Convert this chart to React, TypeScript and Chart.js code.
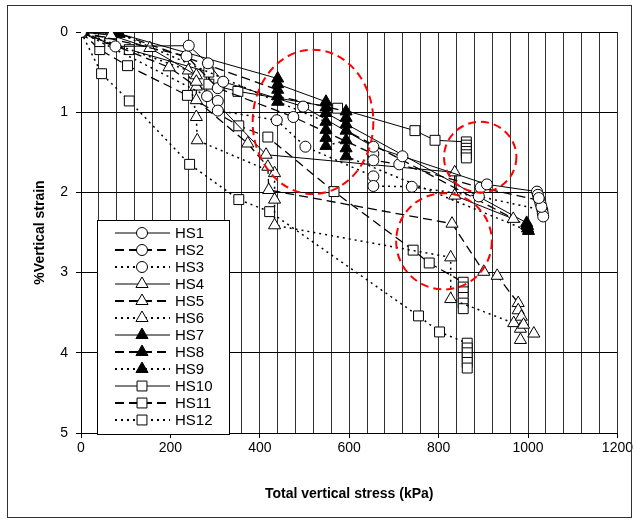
import React, { useEffect, useRef } from 'react';
import { Chart, registerables } from 'chart.js';

Chart.register(...registerables);

// ---- data (stress kPa, vertical strain %) ----
const HS1_STRESS = [0, 77, 241, 284, 318, 497, 654, 719, 908, 1020, 1022, 1024];
const HS1_STRAIN = [0, 0.18, 0.17, 0.39, 0.62, 0.93, 1.43, 1.55, 1.9, 1.99, 2.03, 2.07];
const HS2_STRESS = [0, 236, 306, 475, 654, 654, 712, 894, 1026, 1028, 1030];
const HS2_STRAIN = [0, 0.3, 0.7, 1.06, 1.52, 1.6, 1.65, 1.94, 2.1, 2.14, 2.18];
const HS3_STRESS = [0, 282, 306, 306, 438, 502, 654, 654, 740, 890, 1032, 1033, 1034];
const HS3_STRAIN = [0, 0.8, 0.86, 0.98, 1.1, 1.43, 1.8, 1.92, 1.93, 2.05, 2.22, 2.26, 2.3];

const HS4_STRESS = [0, 67, 154, 258, 258, 414, 836, 836, 967];
const HS4_STRAIN = [0, 0.04, 0.2, 0.54, 0.62, 1.53, 1.75, 2.04, 2.33];
const HS5_STRESS = [0, 197, 258, 258, 373, 418, 420, 830, 901, 931, 978, 978, 985, 990, 1013];
const HS5_STRAIN = [0, 0.44, 0.68, 0.85, 1.39, 1.68, 1.97, 2.39, 2.99, 3.04, 3.38, 3.47, 3.55, 3.65, 3.76];
const HS6_STRESS = [0, 240, 258, 260, 433, 433, 433, 827, 827, 968, 983, 983];
const HS6_STRAIN = [0, 0.48, 1.06, 1.35, 1.76, 2.09, 2.41, 2.81, 3.33, 3.63, 3.7, 3.84];

const HS7_STRESS = [0, 85, 440, 440, 548, 548, 548, 997, 997];
const HS7_STRAIN = [0, 0.02, 0.58, 0.65, 0.87, 0.94, 1.01, 2.38, 2.41];
const HS8_STRESS = [0, 85, 440, 440, 593, 593, 593, 593, 999, 999];
const HS8_STRAIN = [0, 0.02, 0.72, 0.8, 0.99, 1.07, 1.15, 1.23, 2.42, 2.45];
const HS9_STRESS = [0, 85, 440, 548, 548, 548, 548, 593, 593, 593, 1001];
const HS9_STRAIN = [0, 0.02, 0.87, 1.12, 1.22, 1.32, 1.42, 1.35, 1.45, 1.55, 2.48];

const HS10_STRESS = [0, 42, 108, 286, 286, 351, 574, 747, 792, 862, 862, 862, 862, 862, 862];
const HS10_STRAIN = [0, 0.12, 0.22, 0.5, 0.65, 0.74, 0.95, 1.23, 1.35, 1.37, 1.41, 1.45, 1.49, 1.53, 1.57];
const HS11_STRESS = [0, 42, 104, 238, 353, 418, 566, 743, 779, 855, 855, 855, 855, 855, 855];
const HS11_STRAIN = [0, 0.22, 0.42, 0.79, 1.17, 1.31, 1.99, 2.72, 2.88, 3.12, 3.18, 3.24, 3.31, 3.38, 3.45];
const HS12_STRESS = [0, 46, 108, 243, 353, 422, 755, 802, 864, 864, 864, 864, 864, 864];
const HS12_STRAIN = [0, 0.52, 0.86, 1.65, 2.09, 2.24, 3.54, 3.74, 3.88, 3.94, 4.0, 4.06, 4.12, 4.19];

const SERIES_NAMES = ['HS1', 'HS2', 'HS3', 'HS4', 'HS5', 'HS6', 'HS7', 'HS8', 'HS9', 'HS10', 'HS11', 'HS12'];
const SERIES_STRESS = [HS1_STRESS, HS2_STRESS, HS3_STRESS, HS4_STRESS, HS5_STRESS, HS6_STRESS, HS7_STRESS, HS8_STRESS, HS9_STRESS, HS10_STRESS, HS11_STRESS, HS12_STRESS];
const SERIES_STRAIN = [HS1_STRAIN, HS2_STRAIN, HS3_STRAIN, HS4_STRAIN, HS5_STRAIN, HS6_STRAIN, HS7_STRAIN, HS8_STRAIN, HS9_STRAIN, HS10_STRAIN, HS11_STRAIN, HS12_STRAIN];

const X_TICK_LABELS = [0, 200, 400, 600, 800, 1000, 1200];
const Y_TICK_LABELS = [0, 1, 2, 3, 4, 5];

// annotation ellipses (data units)
const ELLIPSE_CX = [519, 893, 812];
const ELLIPSE_CY = [1.12, 1.56, 2.61];
const ELLIPSE_RX = [135, 81, 107];
const ELLIPSE_RY = [0.9, 0.44, 0.6];

// ---- styles ----
type Marker = 'circle' | 'triangle' | 'filledTriangle' | 'square';
const MARKERS: Marker[] = ['circle', 'circle', 'circle', 'triangle', 'triangle', 'triangle', 'filledTriangle', 'filledTriangle', 'filledTriangle', 'square', 'square', 'square'];
const DASH_KIND = ['solid', 'dashed', 'dotted'];

function dashFor(kind: string): number[] {
  if (kind === 'dashed') return [9, 5];
  if (kind === 'dotted') return [2, 4];
  return [];
}
function widthFor(kind: string): number {
  if (kind === 'dashed') return 1.3;
  if (kind === 'dotted') return 1.5;
  return 1;
}
function pointStyleFor(m: Marker): string {
  if (m === 'circle') return 'circle';
  if (m === 'square') return 'rect';
  return 'triangle';
}
function radiusFor(m: Marker): number {
  if (m === 'circle') return 5.5;
  if (m === 'square') return 7;
  return 7;
}

function drawMarker(ctx: CanvasRenderingContext2D, m: Marker, x: number, y: number) {
  ctx.save();
  ctx.setLineDash([]);
  ctx.lineWidth = 1;
  ctx.strokeStyle = '#000';
  ctx.fillStyle = m === 'filledTriangle' ? '#000' : '#fff';
  ctx.beginPath();
  const r = radiusFor(m);
  if (m === 'circle') {
    ctx.arc(x, y, r, 0, Math.PI * 2);
  } else if (m === 'square') {
    const s = Math.SQRT1_2 * r;
    ctx.rect(x - s, y - s, 2 * s, 2 * s);
  } else {
    let a = 0;
    ctx.moveTo(x + Math.sin(a) * r, y - Math.cos(a) * r);
    a += (2 * Math.PI) / 3;
    ctx.lineTo(x + Math.sin(a) * r, y - Math.cos(a) * r);
    a += (2 * Math.PI) / 3;
    ctx.lineTo(x + Math.sin(a) * r, y - Math.cos(a) * r);
    ctx.closePath();
  }
  ctx.fill();
  ctx.stroke();
  ctx.restore();
}

const frame = {
  id: 'frame',
  beforeDraw(chart: any) {
    const ctx = chart.ctx;
    ctx.save();
    ctx.fillStyle = '#fff';
    ctx.fillRect(0, 0, chart.width, chart.height);
    ctx.restore();
  },
  afterDraw(chart: any) {
    const ctx = chart.ctx;
    ctx.save();
    ctx.strokeStyle = '#333';
    ctx.lineWidth = 1;
    ctx.strokeRect(7.5, 5.5, chart.width - 11, chart.height - 9);
    ctx.restore();
  },
};

const ellipses = {
  id: 'ellipses',
  afterDatasetsDraw(chart: any) {
    const { ctx, scales } = chart;
    const xs = scales.x;
    const ys = scales.y;
    ctx.save();
    ctx.strokeStyle = '#ff0000';
    ctx.lineWidth = 2;
    ctx.setLineDash([8, 5]);
    for (let i = 0; i < ELLIPSE_CX.length; i++) {
      const cx = xs.getPixelForValue(ELLIPSE_CX[i]);
      const cy = ys.getPixelForValue(ELLIPSE_CY[i]);
      const rx = Math.abs(xs.getPixelForValue(ELLIPSE_CX[i] + ELLIPSE_RX[i]) - cx);
      const ry = Math.abs(ys.getPixelForValue(ELLIPSE_CY[i] + ELLIPSE_RY[i]) - cy);
      ctx.beginPath();
      ctx.ellipse(cx, cy, rx, ry, 0, 0, Math.PI * 2);
      ctx.stroke();
    }
    ctx.restore();
  },
};

const legendBox = {
  id: 'legendBox',
  afterDraw(chart: any) {
    const ctx = chart.ctx;
    const area = chart.chartArea;
    const left = area.left + 16;
    const top = 220;
    const w = 132;
    const h = 214;
    ctx.save();
    ctx.fillStyle = '#fff';
    ctx.fillRect(left, top, w, h);
    ctx.strokeStyle = '#000';
    ctx.lineWidth = 1;
    ctx.strokeRect(left + 0.5, top + 0.5, w, h);
    ctx.font = '15px "Liberation Sans", Arial, sans-serif';
    ctx.textBaseline = 'middle';
    ctx.textAlign = 'left';
    chart.data.datasets.forEach((ds: any, i: number) => {
      const y = top + 13 + i * 17;
      const kind = DASH_KIND[i % 3];
      ctx.save();
      ctx.strokeStyle = '#000';
      ctx.lineWidth = kind === 'solid' ? 1 : 2;
      ctx.setLineDash(kind === 'dashed' ? [9, 5] : kind === 'dotted' ? [2, 4] : []);
      ctx.beginPath();
      ctx.moveTo(left + 18, y);
      ctx.lineTo(left + 73, y);
      ctx.stroke();
      ctx.restore();
      drawMarker(ctx, MARKERS[i], left + 45, y);
      ctx.fillStyle = '#000';
      ctx.fillText(ds.label, left + 78, y + 1);
    });
    ctx.restore();
  },
};

export default function App() {
  const ref = useRef<HTMLCanvasElement | null>(null);
  useEffect(() => {
    if (!ref.current) return;
    const datasets = SERIES_NAMES.map((name, i) => {
      const kind = DASH_KIND[i % 3];
      const m = MARKERS[i];
      return {
        label: name,
        data: SERIES_STRESS[i].map((x, j) => ({ x, y: SERIES_STRAIN[i][j] })),
        showLine: true,
        borderColor: '#000',
        borderWidth: widthFor(kind),
        borderDash: dashFor(kind),
        pointStyle: pointStyleFor(m),
        pointRadius: radiusFor(m),
        pointBorderWidth: 1,
        pointBorderColor: '#000',
        pointBackgroundColor: m === 'filledTriangle' ? '#000' : '#fff',
        tension: 0,
      };
    });
    const font = { family: '"Liberation Sans", Arial, sans-serif', size: 14 };
    const chart = new Chart(ref.current, {
      type: 'scatter',
      data: { datasets },
      options: {
        animation: false,
        responsive: false,
        devicePixelRatio: 1,
        layout: { padding: { left: 0, right: 16, top: 32, bottom: 0 } },
        plugins: { legend: { display: false }, tooltip: { enabled: false } },
        scales: {
          x: {
            type: 'linear',
            min: 0,
            max: 1200,
            afterFit: (s: any) => { s.height = 88; },
            ticks: {
              stepSize: 40,
              autoSkip: false,
              maxRotation: 0,
              padding: 2,
              color: '#000',
              font,
              callback: (v: any) => (X_TICK_LABELS.includes(Number(v)) ? String(v) : ''),
            },
            grid: {
              color: '#333',
              lineWidth: 1,
              tickLength: 5,
              tickColor: (c: any) => (c.tick && X_TICK_LABELS.includes(c.tick.value) ? '#000' : 'rgba(0,0,0,0)'),
            },
            border: { color: '#000', width: 1 },
            title: {
              display: true,
              text: 'Total vertical stress (kPa)',
              color: '#000',
              font: { ...font, weight: 'bold' },
              padding: { top: 0, bottom: 18 },
            },
          },
          y: {
            type: 'linear',
            reverse: true,
            min: 0,
            max: 5,
            afterFit: (s: any) => { s.width = 81; },
            ticks: {
              stepSize: 1,
              padding: 8,
              color: '#000',
              font,
              callback: (v: any) => (Y_TICK_LABELS.includes(Number(v)) ? String(v) : ''),
            },
            grid: { color: '#000', lineWidth: 1, tickLength: 5, tickColor: '#000' },
            border: { color: '#000', width: 1 },
            title: {
              display: true,
              text: '%Vertical strain',
              color: '#000',
              font: { ...font, weight: 'bold' },
              padding: { top: 32, bottom: 0 },
            },
          },
        },
      },
      plugins: [frame, ellipses, legendBox],
    } as any);
    return () => chart.destroy();
  }, []);
  return (
    <div style={{ position: 'absolute', left: 0, top: 0, width: 635, height: 521 }}>
      <canvas ref={ref} width={635} height={521} style={{ width: 635, height: 521, display: 'block' }} />
    </div>
  );
}
